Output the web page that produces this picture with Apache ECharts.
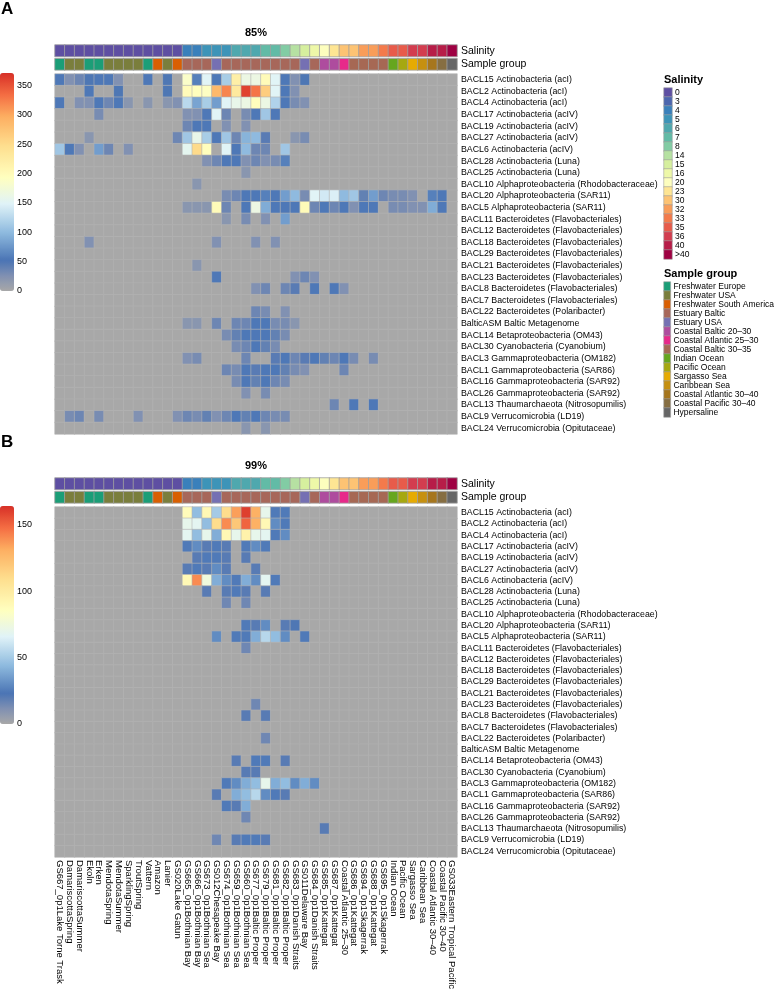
<!DOCTYPE html>
<html><head><meta charset="utf-8">
<script src="https://cdn.jsdelivr.net/npm/echarts@6/dist/echarts.min.js"></script>
<style>html,body{margin:0;padding:0;background:#fff}#c{width:777px;height:992px}</style>
</head><body><div id="c"></div>
<script>
const samples = ['GS667_0p1Lake Torne Trask','DamariscottaSpring','DamariscottaSummer','Ekoln','Erken','MendotaSpring','MendotaSummer','SparklingSpring','TroutSpring','Vattern','Amazon','Lanier','GS020Lake Gatun','GS665_0p1Bothnian Bay','GS666_0p1Bothnian Bay','GS673_0p1Bothnian Sea','GS012Chesapeake Bay','GS674_0p1Bothnian Sea','GS659_0p1Bothnian Sea','GS660_0p1Bothnian Sea','GS677_0p1Baltic Proper','GS679_0p1Baltic Proper','GS681_0p1Baltic Proper','GS682_0p1Baltic Proper','GS683_0p1Danish Straits','GS011Delaware Bay','GS684_0p1Danish Straits','GS685_0p1Kattegat','GS687_0p1Kattegat','Coastal Atlantic 25\u201330','GS686_0p1Kattegat','GS694_0p1Skagerrak','GS688_0p1Kattegat','GS695_0p1Skagerrak','Indian Ocean','Pacific Ocean','Sargasso Sea','Caribbean Sea','Coastal Atlantic 30\u201340','Coastal Pacific 30\u201340','GS033Eastern Tropical Pacific'];
const bins = ['BACL15 Actinobacteria (acI)','BACL2 Actinobacteria (acI)','BACL4 Actinobacteria (acI)','BACL17 Actinobacteria (acIV)','BACL19 Actinobacteria (acIV)','BACL27 Actinobacteria (acIV)','BACL6 Actinobacteria (acIV)','BACL28 Actinobacteria (Luna)','BACL25 Actinobacteria (Luna)','BACL10 Alphaproteobacteria (Rhodobacteraceae)','BACL20 Alphaproteobacteria (SAR11)','BACL5 Alphaproteobacteria (SAR11)','BACL11 Bacteroidetes (Flavobacteriales)','BACL12 Bacteroidetes (Flavobacteriales)','BACL18 Bacteroidetes (Flavobacteriales)','BACL29 Bacteroidetes (Flavobacteriales)','BACL21 Bacteroidetes (Flavobacteriales)','BACL23 Bacteroidetes (Flavobacteriales)','BACL8 Bacteroidetes (Flavobacteriales)','BACL7 Bacteroidetes (Flavobacteriales)','BACL22 Bacteroidetes (Polaribacter)','BalticASM Baltic Metagenome','BACL14 Betaproteobacteria (OM43)','BACL30 Cyanobacteria (Cyanobium)','BACL3 Gammaproteobacteria (OM182)','BACL1 Gammaproteobacteria (SAR86)','BACL16 Gammaproteobacteria (SAR92)','BACL26 Gammaproteobacteria (SAR92)','BACL13 Thaumarchaeota (Nitrosopumilis)','BACL9 Verrucomicrobia (LD19)','BACL24 Verrucomicrobia (Opitutaceae)'];
const salinityLevels = ['0','3','4','5','6','7','8','14','15','16','20','23','30','32','33','35','36','40','>40'];
const salinityColors = ['#5E4FA2','#4C66AE','#3A80BB','#3D94B8','#4FA8AE','#62BBA6','#82CCA4','#B6E1A2','#D6EF9E','#EEF8A8','#FDFEBE','#FEE593','#FDC373','#F99D59','#F47A4B','#E85B4A','#D33D4F','#B71D48','#9E0142'];
const groupNames = ['Freshwater Europe','Freshwater USA','Freshwater South America','Estuary Baltic','Estuary USA','Coastal Baltic 20\u201330','Coastal Atlantic 25\u201330','Coastal Baltic 30\u201335','Indian Ocean','Pacific Ocean','Sargasso Sea','Caribbean Sea','Coastal Atlantic 30\u201340','Coastal Pacific 30\u201340','Hypersaline'];
const groupColors = ['#1B9E77','#7A7E3C','#D95F02','#A7675A','#7570B3','#AE4C9E','#E7298A','#A66854','#66A61E','#A6A810','#E6AB02','#C69010','#A6761D','#866E42','#666666'];
const sampleSalinity = ['0','0','0','0','0','0','0','0','0','0','0','0','0','4','4','5','5','5','6','6','6','7','7','8','14','15','16','20','23','30','30','32','32','33','35','35','36','36','40','40','>40'];
const sampleGroup = ['Freshwater Europe','Freshwater USA','Freshwater USA','Freshwater Europe','Freshwater Europe','Freshwater USA','Freshwater USA','Freshwater USA','Freshwater USA','Freshwater Europe','Freshwater South America','Freshwater USA','Freshwater South America','Estuary Baltic','Estuary Baltic','Estuary Baltic','Estuary USA','Estuary Baltic','Estuary Baltic','Estuary Baltic','Estuary Baltic','Estuary Baltic','Estuary Baltic','Estuary Baltic','Estuary Baltic','Estuary USA','Estuary Baltic','Coastal Baltic 20\u201330','Coastal Baltic 20\u201330','Coastal Atlantic 25\u201330','Coastal Baltic 30\u201335','Coastal Baltic 30\u201335','Coastal Baltic 30\u201335','Coastal Baltic 30\u201335','Indian Ocean','Pacific Ocean','Sargasso Sea','Caribbean Sea','Coastal Atlantic 30\u201340','Coastal Pacific 30\u201340','Hypersaline'];
const panelTitles = ['85%','99%'];
const maxA = 371, maxB = 164;
const ticksStep = 50;

const valuesA = [
[55,25,35,50,55,55,25,0,0,55, 0,50,0,185,60,150,55,115,220,165, 165,200,150,55,25,50,0,0,0,0, 0,0,0,0,0,0,0,0,0,0, 0],
[0,0,0,55,0,0,50,0,0,0, 0,50,0,200,195,190,285,320,230,360, 330,265,150,55,25,0,0,0,0,0, 0,0,0,0,0,0,0,0,0,0, 0],
[55,0,25,25,55,35,55,20,0,20, 0,20,25,125,85,115,80,150,160,165, 195,165,120,55,30,25,0,0,0,0, 0,0,0,0,0,0,0,0,0,0, 0],
[0,0,0,0,30,0,0,0,0,0, 0,0,0,25,25,55,150,35,0,30, 55,110,55,0,0,0,0,0,0,0, 0,0,0,0,0,0,0,0,0,0, 0],
[0,0,0,0,0,0,0,0,0,0, 0,0,0,35,55,55,0,25,0,25, 0,0,0,0,0,0,0,0,0,0, 0,0,0,0,0,0,0,0,0,0, 0],
[0,0,0,20,0,0,0,0,0,0, 0,0,35,110,160,115,55,110,35,95, 100,45,0,0,20,30,0,0,0,0, 0,0,0,0,0,0,0,0,0,0, 0],
[110,55,25,0,80,35,0,25,0,0, 0,0,0,155,250,195,0,150,55,100, 35,35,0,110,0,0,0,0,0,0, 0,0,0,0,0,0,0,0,0,0, 0],
[0,0,0,0,0,0,0,0,0,0, 0,0,0,0,0,25,35,55,55,25, 35,25,30,60,0,0,0,0,0,0, 0,0,0,0,0,0,0,0,0,0, 0],
[0,0,0,0,0,0,0,0,0,0, 0,0,0,0,0,0,0,0,0,20, 0,0,0,0,0,0,0,0,0,0, 0,0,0,0,0,0,0,0,0,0, 0],
[0,0,0,0,0,0,0,0,0,0, 0,0,0,0,20,0,0,0,0,0, 0,0,0,0,0,0,0,0,0,0, 0,0,0,0,0,0,0,0,0,0, 0],
[0,0,0,0,0,0,0,0,0,0, 0,0,0,0,0,0,0,30,35,55, 55,60,55,80,100,30,150,140,145,100, 110,40,80,35,30,30,25,0,60,55, 0],
[0,0,0,0,0,0,0,0,0,0, 0,0,0,20,20,20,200,35,0,55, 165,90,55,55,55,200,35,55,35,55, 25,55,55,0,30,30,25,25,90,55, 0],
[0,0,0,0,0,0,0,0,0,0, 0,0,0,0,0,0,0,20,0,30, 0,25,0,80,0,0,0,0,0,0, 0,0,0,0,0,0,0,0,0,0, 0],
[0,0,0,0,0,0,0,0,0,0, 0,0,0,0,0,0,0,0,0,0, 0,0,0,0,0,0,0,0,0,0, 0,0,0,0,0,0,0,0,0,0, 0],
[0,0,0,25,0,0,0,0,0,0, 0,0,0,0,0,0,25,0,0,0, 25,0,25,0,0,0,0,0,0,0, 0,0,0,0,0,0,0,0,0,0, 0],
[0,0,0,0,0,0,0,0,0,0, 0,0,0,0,0,0,0,0,0,0, 0,0,0,0,0,0,0,0,0,0, 0,0,0,0,0,0,0,0,0,0, 0],
[0,0,0,0,0,0,0,0,0,0, 0,0,0,0,20,0,0,0,0,0, 0,0,0,0,0,0,0,0,0,0, 0,0,0,0,0,0,0,0,0,0, 0],
[0,0,0,0,0,0,0,0,0,0, 0,0,0,0,0,0,55,0,0,0, 0,0,0,0,25,35,25,0,0,0, 0,0,0,0,0,0,0,0,0,0, 0],
[0,0,0,0,0,0,0,0,0,0, 0,0,0,0,0,0,0,0,0,0, 25,35,0,35,45,0,55,0,55,25, 0,0,0,0,0,0,0,0,0,0, 0],
[0,0,0,0,0,0,0,0,0,0, 0,0,0,0,0,0,0,0,0,0, 0,0,0,0,0,0,0,0,0,0, 0,0,0,0,0,0,0,0,0,0, 0],
[0,0,0,0,0,0,0,0,0,0, 0,0,0,0,0,0,0,0,0,0, 35,30,0,25,0,0,0,0,0,0, 0,0,0,0,0,0,0,0,0,0, 0],
[0,0,0,0,0,0,0,0,0,0, 0,0,0,20,20,0,35,0,35,35, 55,55,30,30,20,0,0,0,0,0, 0,0,0,0,0,0,0,0,0,0, 0],
[0,0,0,0,0,0,0,0,0,0, 0,0,0,0,0,0,0,30,40,55, 55,55,40,30,0,0,0,0,0,0, 0,0,0,0,0,0,0,0,0,0, 0],
[0,0,0,0,0,0,0,0,0,0, 0,0,0,0,0,0,0,0,30,35, 55,40,30,0,0,0,0,0,0,0, 0,0,0,0,0,0,0,0,0,0, 0],
[0,0,0,0,0,0,0,0,0,0, 0,0,0,25,30,0,0,0,0,35, 0,0,45,55,35,45,55,40,35,55, 30,0,30,0,0,0,0,0,0,0, 0],
[0,0,0,0,0,0,0,0,0,0, 0,0,0,0,0,0,0,35,30,55, 45,55,55,40,30,25,0,0,0,35, 0,0,0,0,0,0,0,0,0,0, 0],
[0,0,0,0,0,0,0,0,0,0, 0,0,0,0,0,0,0,0,30,55, 40,55,35,30,0,0,0,0,0,0, 0,0,0,0,0,0,0,0,0,0, 0],
[0,0,0,0,0,0,0,0,0,0, 0,0,0,0,0,0,0,0,0,25, 0,30,0,0,0,0,0,0,0,0, 0,0,0,0,0,0,0,0,0,0, 0],
[0,0,0,0,0,0,0,0,0,0, 0,0,0,0,0,0,0,0,0,0, 0,0,0,0,0,0,0,0,35,0, 55,0,55,0,0,0,0,0,0,0, 0],
[0,30,35,0,30,0,0,0,25,0, 0,0,25,35,30,40,25,35,55,40, 55,35,30,30,0,0,0,0,0,0, 0,0,0,0,0,0,0,0,0,0, 0],
[0,0,0,0,0,0,0,0,0,0, 0,0,0,0,0,0,0,0,0,20, 0,20,0,0,0,0,0,0,0,0, 0,0,0,0,0,0,0,0,0,0, 0]
];
const valuesB = [
[0,0,0,0,0,0,0,0,0,0, 0,0,0,88,45,90,50,110,135,160, 130,70,25,25,0,0,0,0,0,0, 0,0,0,0,0,0,0,0,0,0, 0],
[0,0,0,0,0,0,0,0,0,0, 0,0,0,70,68,45,110,140,120,150, 130,90,30,25,0,0,0,0,0,0, 0,0,0,0,0,0,0,0,0,0, 0],
[0,0,0,0,0,0,0,0,0,0, 0,0,0,68,45,70,40,90,70,95, 70,68,25,30,0,0,0,0,0,0, 0,0,0,0,0,0,0,0,0,0, 0],
[0,0,0,0,0,0,0,0,0,0, 0,0,0,25,30,20,25,20,0,25, 30,25,0,0,0,0,0,0,0,0, 0,0,0,0,0,0,0,0,0,0, 0],
[0,0,0,0,0,0,0,0,0,0, 0,0,0,0,20,25,25,20,0,20, 0,0,0,0,0,0,0,0,0,0, 0,0,0,0,0,0,0,0,0,0, 0],
[0,0,0,0,0,0,0,0,0,0, 0,0,0,20,25,20,30,20,0,0, 20,0,0,0,0,0,0,0,0,0, 0,0,0,0,0,0,0,0,0,0, 0],
[0,0,0,0,0,0,0,0,0,0, 0,0,0,90,140,75,40,30,25,40, 30,68,25,0,0,0,0,0,0,0, 0,0,0,0,0,0,0,0,0,0, 0],
[0,0,0,0,0,0,0,0,0,0, 0,0,0,0,0,20,0,20,25,20, 0,20,0,0,0,0,0,0,0,0, 0,0,0,0,0,0,0,0,0,0, 0],
[0,0,0,0,0,0,0,0,0,0, 0,0,0,0,0,0,0,15,0,15, 0,0,0,0,0,0,0,0,0,0, 0,0,0,0,0,0,0,0,0,0, 0],
[0,0,0,0,0,0,0,0,0,0, 0,0,0,0,0,0,0,0,0,0, 0,0,0,0,0,0,0,0,0,0, 0,0,0,0,0,0,0,0,0,0, 0],
[0,0,0,0,0,0,0,0,0,0, 0,0,0,0,0,0,0,0,0,25, 20,30,0,20,22,0,0,0,0,0, 0,0,0,0,0,0,0,0,0,0, 0],
[0,0,0,0,0,0,0,0,0,0, 0,0,0,0,0,0,30,0,25,25, 40,55,45,30,0,25,0,0,0,0, 0,0,0,0,0,0,0,0,0,0, 0],
[0,0,0,0,0,0,0,0,0,0, 0,0,0,0,0,0,0,0,0,15, 0,0,0,0,0,0,0,0,0,0, 0,0,0,0,0,0,0,0,0,0, 0],
[0,0,0,0,0,0,0,0,0,0, 0,0,0,0,0,0,0,0,0,0, 0,0,0,0,0,0,0,0,0,0, 0,0,0,0,0,0,0,0,0,0, 0],
[0,0,0,0,0,0,0,0,0,0, 0,0,0,0,0,0,0,0,0,0, 0,0,0,0,0,0,0,0,0,0, 0,0,0,0,0,0,0,0,0,0, 0],
[0,0,0,0,0,0,0,0,0,0, 0,0,0,0,0,0,0,0,0,0, 0,0,0,0,0,0,0,0,0,0, 0,0,0,0,0,0,0,0,0,0, 0],
[0,0,0,0,0,0,0,0,0,0, 0,0,0,0,0,0,0,0,0,0, 0,0,0,0,0,0,0,0,0,0, 0,0,0,0,0,0,0,0,0,0, 0],
[0,0,0,0,0,0,0,0,0,0, 0,0,0,0,0,0,0,0,0,0, 15,0,0,0,0,0,0,0,0,0, 0,0,0,0,0,0,0,0,0,0, 0],
[0,0,0,0,0,0,0,0,0,0, 0,0,0,0,0,0,0,0,0,20, 0,20,0,0,0,0,0,0,0,0, 0,0,0,0,0,0,0,0,0,0, 0],
[0,0,0,0,0,0,0,0,0,0, 0,0,0,0,0,0,0,0,0,0, 0,0,0,0,0,0,0,0,0,0, 0,0,0,0,0,0,0,0,0,0, 0],
[0,0,0,0,0,0,0,0,0,0, 0,0,0,0,0,0,0,0,0,0, 0,15,0,0,0,0,0,0,0,0, 0,0,0,0,0,0,0,0,0,0, 0],
[0,0,0,0,0,0,0,0,0,0, 0,0,0,0,0,0,0,0,0,0, 0,0,0,0,0,0,0,0,0,0, 0,0,0,0,0,0,0,0,0,0, 0],
[0,0,0,0,0,0,0,0,0,0, 0,0,0,0,0,0,0,0,20,0, 25,25,0,20,0,0,0,0,0,0, 0,0,0,0,0,0,0,0,0,0, 0],
[0,0,0,0,0,0,0,0,0,0, 0,0,0,0,0,0,0,0,0,20, 20,0,0,0,0,0,0,0,0,0, 0,0,0,0,0,0,0,0,0,0, 0],
[0,0,0,0,0,0,0,0,0,0, 0,0,0,0,0,0,0,25,30,40, 45,70,40,45,30,40,30,0,0,0, 0,0,0,0,0,0,0,0,0,0, 0],
[0,0,0,0,0,0,0,0,0,0, 0,0,0,0,0,0,20,0,40,45, 55,30,25,20,0,0,0,0,0,0, 0,0,0,0,0,0,0,0,0,0, 0],
[0,0,0,0,0,0,0,0,0,0, 0,0,0,0,0,0,0,25,20,40, 0,0,0,0,0,0,0,0,0,0, 0,0,0,0,0,0,0,0,0,0, 0],
[0,0,0,0,0,0,0,0,0,0, 0,0,0,0,0,0,0,0,0,15, 0,0,0,0,0,0,0,0,0,0, 0,0,0,0,0,0,0,0,0,0, 0],
[0,0,0,0,0,0,0,0,0,0, 0,0,0,0,0,0,0,0,0,0, 0,0,0,0,0,0,0,20,0,0, 0,0,0,0,0,0,0,0,0,0, 0],
[0,0,0,0,0,0,0,0,0,0, 0,0,0,0,0,0,15,0,20,25, 25,20,0,0,0,0,0,0,0,0, 0,0,0,0,0,0,0,0,0,0, 0],
[0,0,0,0,0,0,0,0,0,0, 0,0,0,0,0,0,0,0,0,0, 0,0,0,0,0,0,0,0,0,0, 0,0,0,0,0,0,0,0,0,0, 0]
];

// ---------- styling ----------
const FONT = "'Liberation Sans',Arial,sans-serif";
const rampStops = [[0,'#a8a8a8'],[0.07,'#8090b2'],[0.14,'#4a74b4'],[0.27,'#8fbbdf'],[0.40,'#e0f3f8'],[0.52,'#ffffbf'],[0.66,'#fee090'],[0.80,'#fdae61'],[0.90,'#f46d43'],[1,'#d73027']];
function hex2rgb(h){return [1,3,5].map(i=>parseInt(h.substr(i,2),16));}
function rampColors(n){
  const out=[];
  for(let k=0;k<n;k++){
    const t=k/(n-1); let j=0;
    while(j<rampStops.length-2 && t>rampStops[j+1][0]) j++;
    const t0=rampStops[j][0], t1=rampStops[j+1][0];
    const a=hex2rgb(rampStops[j][1]), b=hex2rgb(rampStops[j+1][1]);
    const f=Math.max(0,Math.min(1,(t-t0)/(t1-t0)));
    out.push('rgb('+a.map((v,i)=>Math.round(v+(b[i]-v)*f)).join(',')+')');
  }
  return out;
}
const RAMP = rampColors(121);

const X0 = 55, W = 402;
const HEAT_H = 360, OFFS = [0, 433];
const grid=[], xAxis=[], yAxis=[], series=[], visualMap=[], graphic=[];
const salColor = {}; salinityLevels.forEach((l,i)=>salColor[l]=salinityColors[i]);
const grpColor = {}; groupNames.forEach((g,i)=>grpColor[g]=groupColors[i]);

function addGrid(g, xa, ya){ grid.push(g); const gi=grid.length-1; xAxis.push(Object.assign({gridIndex:gi},xa)); yAxis.push(Object.assign({gridIndex:gi},ya)); return gi; }
const hiddenCat = (data)=>({type:'category', data, show:false, axisTick:{show:false}, axisLine:{show:false}, splitLine:{show:false}});
const rightCat = (data, fs, inv, mg)=>({type:'category', data, position:'right', inverse:!!inv, axisLine:{show:false}, axisTick:{show:false}, splitLine:{show:false}, axisLabel:{fontSize:fs, color:'#000', margin:(mg==null?4:mg), fontFamily:FONT, interval:0}});

[valuesA, valuesB].forEach((vals, p)=>{
  const off = OFFS[p];
  const mx = p===0?maxA:maxB;
  let gi = addGrid({left:X0, width:W, top:45+off, height:11.5}, hiddenCat(samples), rightCat(['Salinity'], 10.5, false));
  series.push({type:'heatmap', xAxisIndex:gi, yAxisIndex:gi, progressive:0, emphasis:{disabled:true},
    itemStyle:{borderColor:'#a0a0a0', borderWidth:0.8},
    data: samples.map((s,i)=>({value:[i,0,1], itemStyle:{color:salColor[sampleSalinity[i]]}}))});
  gi = addGrid({left:X0, width:W, top:58.7+off, height:11.2}, hiddenCat(samples), rightCat(['Sample group'], 10.5, false));
  series.push({type:'heatmap', xAxisIndex:gi, yAxisIndex:gi, progressive:0, emphasis:{disabled:true},
    itemStyle:{borderColor:'#a0a0a0', borderWidth:0.8},
    data: samples.map((s,i)=>({value:[i,0,1], itemStyle:{color:grpColor[sampleGroup[i]]}}))});
  const xa = p===1 ? {type:'category', data:samples, position:'bottom', axisLine:{show:false}, axisTick:{show:false}, splitLine:{show:false},
      axisLabel:{rotate:-90, fontSize:9.5, color:'#000', interval:0, margin:3, fontFamily:FONT}} : hiddenCat(samples);
  gi = addGrid({left:X0, width:W, top:74+off, height:HEAT_H}, xa, rightCat(bins, 8.8, true));
  const data=[];
  vals.forEach((row,r)=>row.forEach((v,c)=>data.push([c,r,v])));
  series.push({type:'heatmap', xAxisIndex:gi, yAxisIndex:gi, progressive:0, emphasis:{disabled:true},
    itemStyle:{borderColor:'#b3b3b3', borderWidth:0.6}, data});
  visualMap.push({type:'continuous', seriesIndex:series.length-1, min:0, max:mx, inRange:{color:RAMP},
    show:true, left:0, top:73+off, itemWidth:14, itemHeight:218, padding:0, calculable:false, hoverLink:false, text:['',''], textGap:0});
  addGrid({left:0, width:14, top:73+off, height:218}, {type:'category', data:['c'], show:false},
    {type:'value', min:0, max:mx, interval:ticksStep, position:'right', axisLine:{show:false}, axisTick:{show:false}, splitLine:{show:false},
     axisLabel:{fontSize:9, color:'#000', margin:3, fontFamily:FONT, showMaxLabel:false}});
  graphic.push({type:'text', left:1, top:1+off, style:{text:p===0?'A':'B', font:'bold 17px '+FONT, fill:'#000'}});
  graphic.push({type:'text', x:X0+W/2, y:33+off, style:{text:panelTitles[p], font:'bold 11px '+FONT, fill:'#000', align:'center', verticalAlign:'middle'}});
});

const LX = 664;
let gi = addGrid({left:LX, width:8, top:88, height:19*9}, hiddenCat(['s']), rightCat(salinityLevels, 8.5, true, 3));
series.push({type:'heatmap', xAxisIndex:gi, yAxisIndex:gi, progressive:0, emphasis:{disabled:true},
  itemStyle:{borderColor:'#a0a0a0', borderWidth:0.6},
  data: salinityLevels.map((l,i)=>({value:[0,i,1], itemStyle:{color:salinityColors[i]}}))});
gi = addGrid({left:LX, width:8, top:282, height:15*9}, hiddenCat(['g']), rightCat(groupNames, 8.5, true, 3));
series.push({type:'heatmap', xAxisIndex:gi, yAxisIndex:gi, progressive:0, emphasis:{disabled:true},
  itemStyle:{borderColor:'#a0a0a0', borderWidth:0.6},
  data: groupNames.map((g,i)=>({value:[0,i,1], itemStyle:{color:groupColors[i]}}))});
graphic.push({type:'text', left:LX, top:74, style:{text:'Salinity', font:'bold 11px '+FONT, fill:'#000'}});
graphic.push({type:'text', left:LX, top:268, style:{text:'Sample group', font:'bold 11px '+FONT, fill:'#000'}});

const chart = echarts.init(document.getElementById('c'), null, {renderer:'canvas'});
chart.setOption({animation:false, backgroundColor:'#fff', grid, xAxis, yAxis, series, visualMap, graphic, tooltip:{show:false}});
</script></body></html>
